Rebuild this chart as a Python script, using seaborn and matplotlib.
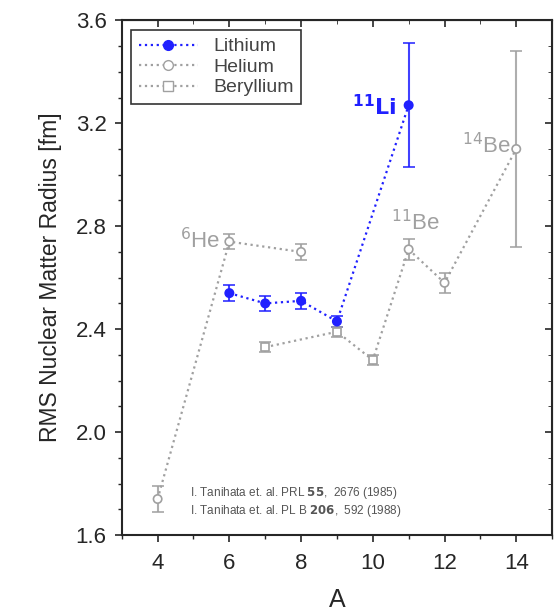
import numpy as np
import pandas as pd
import matplotlib
matplotlib.use("Agg")
import matplotlib.pyplot as plt
from matplotlib.lines import Line2D
from matplotlib.ticker import MultipleLocator
import seaborn as sns

# Data
li_a = [6, 7, 8, 9, 11]
li_r = [2.54, 2.50, 2.51, 2.43, 3.27]
li_err = [0.03, 0.03, 0.03, 0.02, 0.24]

he_a = [4, 6, 8]
he_r = [1.74, 2.74, 2.70]
he_err = [0.05, 0.03, 0.03]

be_a = [7, 9, 10, 11, 12, 14]
be_r = [2.33, 2.39, 2.28, 2.71, 2.58, 3.10]
be_err = [0.02, 0.02, 0.02, 0.04, 0.04, 0.38]
be_mark = ["s", "s", "s", "o", "o", "o"]   # later points drawn as circles

BLUE = "#2020ff"
GRAY = "#a0a0a0"

sns.set_style("ticks")
plt.rcParams["font.family"] = ["Liberation Sans", "DejaVu Sans"]

fig = plt.figure(figsize=(5.56, 6.15), dpi=100)
ax = fig.add_axes([0.219, 0.130, 0.774, 0.837])

series = [
    ("Lithium", li_a, li_r, li_err, BLUE, ["o"] * len(li_a), BLUE),
    ("Helium", he_a, he_r, he_err, GRAY, ["o"] * len(he_a), "white"),
    ("Beryllium", be_a, be_r, be_err, GRAY, be_mark, "white"),
]
for name, a, r, err, col, mk, fc in series:
    df = pd.DataFrame({"A": a, "R": r, "m": mk})
    ax.errorbar(a, r, yerr=err, fmt="none", ecolor=col, elinewidth=1.5,
                capsize=4, capthick=1.3, zorder=1, alpha=0.85)
    sns.lineplot(data=df, x="A", y="R", ax=ax, color=col, linestyle=":",
                 linewidth=1.6, zorder=2, legend=False)
    sns.scatterplot(data=df, x="A", y="R", style="m",
                    markers={"o": "o", "s": "s"}, ax=ax, color=fc,
                    edgecolor=col, linewidth=1.2, s=36, zorder=3, legend=False)

ax.set_xlim(3, 15)
ax.set_ylim(1.6, 3.6)
ax.xaxis.set_major_locator(MultipleLocator(2))
ax.xaxis.set_minor_locator(MultipleLocator(1))
ax.yaxis.set_major_locator(MultipleLocator(0.4))
ax.yaxis.set_minor_locator(MultipleLocator(0.1))
ax.tick_params(axis="both", which="major", labelsize=16, length=5, width=1.2)
ax.tick_params(axis="both", which="minor", length=3, width=1)
ax.tick_params(axis="x", which="major", pad=8)
ax.tick_params(axis="y", which="major", pad=6)
for s in ax.spines.values():
    s.set_linewidth(1.5)
    s.set_visible(True)

# mirrored ticks on top/right pointing inward
axt = ax.secondary_xaxis("top")
axt.xaxis.set_major_locator(MultipleLocator(2))
axt.xaxis.set_minor_locator(MultipleLocator(1))
axt.tick_params(which="both", direction="in", labeltop=False)
axt.tick_params(which="major", length=5, width=1.2)
axt.tick_params(which="minor", length=3)
axr = ax.secondary_yaxis("right")
axr.yaxis.set_major_locator(MultipleLocator(0.4))
axr.yaxis.set_minor_locator(MultipleLocator(0.1))
axr.tick_params(which="both", direction="in", labelright=False)
axr.tick_params(which="major", length=5, width=1.2)
axr.tick_params(which="minor", length=3)

ax.set_xlabel("A", fontsize=18, labelpad=10)
ax.set_ylabel("RMS Nuclear Matter Radius [fm]", fontsize=16.5, labelpad=10)

ax.text(5.75, 2.745, r"$^{6}$He", color=GRAY, fontsize=16, ha="right", va="center")
ax.text(10.65, 3.26, r"$\mathbf{^{11}Li}$", color=BLUE, fontsize=16, ha="right", va="center")
ax.text(11.2, 2.815, r"$^{11}$Be", color=GRAY, fontsize=16, ha="center", va="center")
ax.text(13.85, 3.115, r"$^{14}$Be", color=GRAY, fontsize=16, ha="right", va="center")

ax.text(4.9, 1.765, r"I. Tanihata et. al. PRL $\mathbf{55}$,  2676 (1985)",
        fontsize=8.5, color="#555555", va="center")
ax.text(4.9, 1.695, r"I. Tanihata et. al. PL B $\mathbf{206}$,  592 (1988)",
        fontsize=8.5, color="#555555", va="center")

handles = [
    Line2D([], [], color=BLUE, linestyle=":", linewidth=1.6, marker="o",
           markersize=7, markerfacecolor=BLUE, markeredgecolor=BLUE),
    Line2D([], [], color=GRAY, linestyle=":", linewidth=1.6, marker="o",
           markersize=7, markerfacecolor="white", markeredgecolor=GRAY),
    Line2D([], [], color=GRAY, linestyle=":", linewidth=1.6, marker="s",
           markersize=7, markerfacecolor="white", markeredgecolor=GRAY),
]
leg = ax.legend(handles, ["Lithium", "Helium", "Beryllium"], loc="upper left",
                fontsize=14, frameon=True, fancybox=False, edgecolor="black",
                handlelength=3, borderaxespad=0.5, labelspacing=0.15,
                borderpad=0.4)
leg.get_frame().set_linewidth(1.2)
for t in leg.get_texts():
    t.set_color("#444444")

fig.savefig("out.png", dpi=100)
